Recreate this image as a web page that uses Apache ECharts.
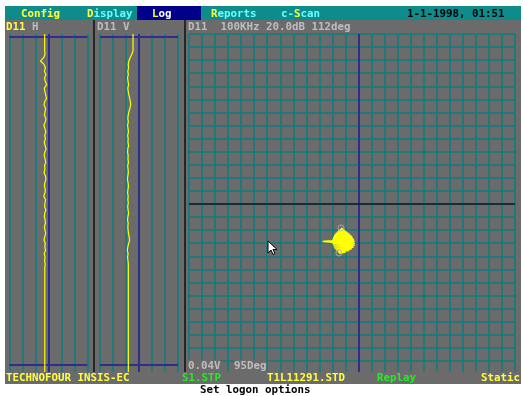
<!DOCTYPE html>
<html>
<head>
<meta charset="utf-8">
<script src="https://cdn.jsdelivr.net/npm/echarts@6/dist/echarts.min.js"></script>
<style>
  html, body { margin: 0; padding: 0; background: #ffffff; }
  #screen { width: 523px; height: 396px; }
</style>
</head>
<body>
<div id="screen"></div>
<script>
// ---- Recorded data -------------------------------------------------------
// Strip traces: probe signal in screen divisions (0 = blue reference line),
// one value per scan step from the top of the record.
const hTrace = [
  -0.28, -0.28, -0.28, -0.28, -0.28, -0.28, -0.25, -0.36, -0.60, -0.33,
  -0.22, -0.30, -0.18, -0.29, -0.24, -0.12, -0.31, -0.26, -0.20, -0.14,
  -0.27, -0.33, -0.21, -0.25, -0.30, -0.18, -0.23, -0.34, -0.26, -0.19,
  -0.28, -0.22, -0.31, -0.25, -0.17, -0.27, -0.32, -0.24, -0.20, -0.29,
  -0.26, -0.33, -0.22, -0.18, -0.27, -0.30, -0.23, -0.26, -0.35, -0.21,
  -0.25, -0.29, -0.19, -0.27, -0.31, -0.24, -0.22, -0.30, -0.26, -0.20,
  -0.28, -0.33, -0.23, -0.27, -0.21, -0.32, -0.25, -0.29, -0.24, -0.27
];
const vTrace = [
  -0.46, -0.46, -0.46, -0.46, -0.46, -0.46, -0.55, -0.68, -0.78, -0.83,
  -0.80, -0.86, -0.82, -0.88, -0.84, -0.80, -0.86, -0.83, -0.78, -0.72,
  -0.66, -0.64, -0.70, -0.78, -0.83, -0.86, -0.82, -0.88, -0.84, -0.81,
  -0.87, -0.83, -0.85, -0.80, -0.86, -0.88, -0.83, -0.85, -0.81, -0.87,
  -0.84, -0.82, -0.86, -0.89, -0.84, -0.81, -0.85, -0.88, -0.83, -0.86,
  -0.82, -0.87, -0.84, -0.80, -0.85, -0.88, -0.83, -0.86, -0.84, -0.81,
  -0.76, -0.72, -0.80, -0.86, -0.90, -0.84, -0.88, -0.85, -0.82, -0.82
];
const hSettled = -0.27;   // held value after the probe stops
const vSettled = -0.82;
const recordEnd = 100;    // last scan step shown

// Impedance-plane (X/Y) trace in divisions, horizontal then vertical
const xyTrace = [
  [-1.34,-1.83],[-1.10,-2.00],[-1.55,-2.05],[-0.90,-2.15],[-1.75,-2.25],[-0.68,-2.30],
  [-1.88,-2.42],[-0.50,-2.48],[-1.95,-2.60],[-0.40,-2.66],[-2.02,-2.78],[-0.30,-2.84],
  [-2.40,-2.82],[-2.75,-2.86],[-2.20,-2.90],[-1.98,-2.94],[-0.28,-3.00],[-1.96,-3.10],
  [-0.30,-3.16],[-1.90,-3.26],[-0.38,-3.30],[-1.82,-3.40],[-0.52,-3.44],[-1.70,-3.52],
  [-0.72,-3.56],[-1.58,-3.64],[-0.98,-3.68],[-1.50,-3.76],
  [-1.22,-3.60],[-1.72,-3.46],[-0.60,-3.38],[-1.86,-3.32],[-0.42,-3.22],[-1.93,-3.18],
  [-0.33,-3.06],[-2.00,-3.02],[-0.36,-2.92],[-1.99,-2.86],[-0.35,-2.74],[-1.98,-2.70],
  [-0.45,-2.56],[-1.92,-2.52],[-0.58,-2.40],[-1.82,-2.34],[-0.80,-2.22],[-1.66,-2.16],
  [-1.00,-2.08],[-1.45,-1.98],[-1.20,-1.92],
  [-1.30,-2.30],[-0.95,-2.60],[-1.55,-2.75],[-0.80,-2.95],[-1.40,-3.10],[-0.70,-3.25],
  [-1.25,-3.45],[-1.60,-3.20],[-1.05,-2.85],[-1.70,-2.62],[-1.10,-2.45],[-0.65,-2.70],
  [-1.48,-2.92],[-1.00,-3.35],[-1.35,-3.55],[-1.15,-3.05],[-0.85,-2.45],[-1.60,-2.40],
  [-1.25,-2.68],[-0.55,-2.90],[-1.80,-3.05],[-1.20,-3.30],[-0.90,-3.15],[-1.50,-3.00],
  [-1.50,-3.75]
];
// Start / end markers of the trace
const xyMarks = [[-1.34,-1.83],[-1.50,-3.75]];

// Screen texts
const menuDate = '1-1-1998, 01:51';
const hTitle = ['D11', 'H'];
const vTitle = 'D11 V';
const xyHeader = 'D11  100KHz 20.0dB 112deg';
const xyFooter = ['0.04V', '95Deg'];
const statusItems = ['TECHNOFOUR INSIS-EC', 'S1.STP', 'T1L11291.STD', 'Replay', 'Static'];
const helpLine = 'Set logon options';

// ---- Look ----------------------------------------------------------------
const C = {
  panel: '#6b6b6b',
  bar: '#0e8c8c',
  grid: '#0b7e7e',
  ref: '#2e2e8c',
  sel: '#00008a',
  trace: '#ffff00',
  yellow: '#ffff44',
  cyan: '#66ffff',
  green: '#22ee22',
  dim: '#bebebe',
  white: '#ffffff',
  black: '#000000'
};
const FONT = 'bold 10.8px "DejaVu Sans Mono", "Liberation Mono", monospace';
const CW = 6.5; // character cell width
// strip window frame, in scan steps
const frameTop = 0.9;
const frameBottom = 98;

function txt(x, y, str, color, bg) {
  const el = {
    type: 'text', x: x, y: y, z: 120,
    style: { text: str, fill: color, font: FONT, textAlign: 'left', textVerticalAlign: 'middle' }
  };
  if (bg) {
    el.style.backgroundColor = bg;
    el.style.padding = [1, 0, 1, 0];
  }
  return el;
}
function txtRun(x, y, parts) {
  const out = [];
  let cx = x;
  parts.forEach(function (p) {
    out.push(txt(cx, y, p[0], p[1], p[2]));
    cx += p[0].length * CW;
  });
  return out;
}

const chart = echarts.init(document.getElementById('screen'), null, { renderer: 'canvas' });

// ---- Axis helpers ----------------------------------------------------------
function stripX(gridIndex) {
  return {
    type: 'value', gridIndex: gridIndex, min: -3, max: 3, interval: 1,
    axisLine: { show: false }, axisTick: { show: false }, axisLabel: { show: false },
    splitLine: { show: true, lineStyle: { color: C.grid, width: 1.5 } }
  };
}
function stripY(gridIndex) {
  return {
    type: 'value', gridIndex: gridIndex, min: 0, max: recordEnd, inverse: true,
    axisLine: { show: false }, axisTick: { show: false }, axisLabel: { show: false },
    splitLine: { show: false }
  };
}
function plainLine(color, width) {
  return {
    silent: true, symbol: 'none', animation: false,
    label: { show: false },
    lineStyle: { color: color, width: width, type: 'solid' },
    emphasis: { disabled: true }
  };
}
function stripSeries(values, settled, idx) {
  const pts = values.map(function (v, i) { return [v, i]; });
  pts.push([settled, recordEnd]);
  const ml = plainLine(C.ref, 2);
  ml.data = [{ xAxis: 0 }, { yAxis: frameTop }, { yAxis: frameBottom }];
  return {
    type: 'line', xAxisIndex: idx, yAxisIndex: idx, data: pts,
    showSymbol: false, symbol: 'none', silent: true, z: 5,
    lineStyle: { color: C.trace, width: 1.2 },
    markLine: ml
  };
}

// ---- Screen furniture ----------------------------------------------------
const graphics = [
  { type: 'rect', z: -5, shape: { x: 5, y: 6, width: 516, height: 14 }, style: { fill: C.bar } },
  { type: 'rect', z: -5, shape: { x: 5, y: 20, width: 516, height: 364 }, style: { fill: C.panel } },
  { type: 'rect', z: -4, shape: { x: 137, y: 6, width: 64, height: 14 }, style: { fill: C.sel } },
  // status row background over the bottom of the panels
  { type: 'rect', z: 110, shape: { x: 5, y: 372, width: 516, height: 12 }, style: { fill: C.panel } },
  // panel separators
  { type: 'line', z: 111, shape: { x1: 94, y1: 20, x2: 94, y2: 372 }, style: { stroke: '#111111', lineWidth: 1.5 } },
  { type: 'line', z: 111, shape: { x1: 185, y1: 20, x2: 185, y2: 372 }, style: { stroke: '#111111', lineWidth: 1.5 } },
  // mouse pointer
  { type: 'polygon', z: 130, x: 268, y: 241,
    shape: { points: [[0,0],[0,12],[3,9],[5,13.5],[7,12.5],[5,8.5],[9,8.5]] },
    style: { fill: '#ffffff', stroke: '#000000', lineWidth: 1 } }
];

const texts = []
  .concat(txtRun(21, 14, [['Config', C.yellow]]))
  .concat(txtRun(87, 14, [['D', C.yellow], ['isplay', C.cyan]]))
  .concat(txtRun(152, 14, [['L', C.yellow], ['og', C.white]]))
  .concat(txtRun(211, 14, [['R', C.yellow], ['eports', C.cyan]]))
  .concat(txtRun(281, 14, [['c-', C.cyan], ['S', C.yellow], ['can', C.cyan]]))
  .concat([txt(407, 14, menuDate, C.black)])
  .concat(txtRun(6, 27, [[hTitle[0], C.yellow], [' ' + hTitle[1], C.dim]]))
  .concat([txt(97, 27, vTitle, C.dim)])
  .concat([txt(188, 27, xyHeader, C.dim)])
  .concat([txt(188, 366, xyFooter[0], C.dim, C.panel), txt(234, 366, xyFooter[1], C.dim, C.panel)])
  .concat([
    txt(6, 378, statusItems[0], C.yellow),
    txt(182, 378, statusItems[1], C.green),
    txt(267, 378, statusItems[2], C.yellow),
    txt(377, 378, statusItems[3], C.green),
    txt(481, 378, statusItems[4], C.yellow)
  ])
  .concat([txt(200, 390, helpLine, C.black)]);

// ---- Chart ---------------------------------------------------------------
const xyRefX = plainLine(C.ref, 2);
xyRefX.data = [{ xAxis: 0 }];
const xyRefY = plainLine('#14142a', 1.5);
xyRefY.data = [{ yAxis: 0 }];

const option = {
  animation: false,
  backgroundColor: '#ffffff',
  grid: [
    { left: 9.3, top: 34, width: 78,  height: 338, outerBoundsMode: 'none', show: false }, // H strip
    { left: 100, top: 34, width: 78,  height: 338, outerBoundsMode: 'none', show: false }, // V strip
    { left: 189, top: 34, width: 326, height: 340, outerBoundsMode: 'none', show: false }  // X/Y plane
  ],
  xAxis: [
    stripX(0),
    stripX(1),
    {
      type: 'value', gridIndex: 2, min: -13, max: 12, interval: 1,
      axisLine: { show: false }, axisTick: { show: false }, axisLabel: { show: false },
      splitLine: { show: true, lineStyle: { color: C.grid, width: 1.5 } }
    }
  ],
  yAxis: [
    stripY(0),
    stripY(1),
    {
      type: 'value', gridIndex: 2, min: -13, max: 13, interval: 1,
      axisLine: { show: false }, axisTick: { show: false }, axisLabel: { show: false },
      splitLine: { show: true, lineStyle: { color: C.grid, width: 1.5 } }
    }
  ],
  series: [
    stripSeries(hTrace, hSettled, 0),
    stripSeries(vTrace, vSettled, 1),
    {
      type: 'line', xAxisIndex: 2, yAxisIndex: 2, data: [],
      silent: true, symbol: 'none', z: 3, markLine: xyRefX
    },
    {
      type: 'line', xAxisIndex: 2, yAxisIndex: 2, data: [],
      silent: true, symbol: 'none', z: 4, markLine: xyRefY
    },
    {
      type: 'line', xAxisIndex: 2, yAxisIndex: 2, data: xyTrace,
      showSymbol: false, symbol: 'none', silent: true, z: 6,
      lineStyle: { color: C.trace, width: 1.5 }
    },
    {
      type: 'scatter', xAxisIndex: 2, yAxisIndex: 2, data: xyMarks,
      silent: true, z: 7, symbol: 'circle', symbolSize: 6,
      itemStyle: { color: 'rgba(0,0,0,0)', borderColor: '#b4b4b4', borderWidth: 1 }
    }
  ],
  graphic: graphics.concat(texts)
};

chart.setOption(option);
</script>
</body>
</html>
